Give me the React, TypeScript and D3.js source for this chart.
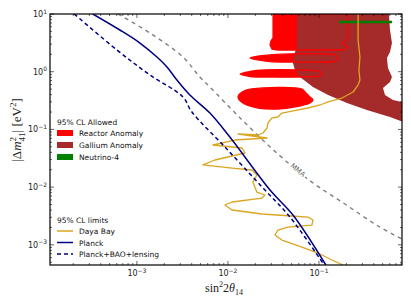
import * as d3 from 'd3'

type Pt = [number, number]

// axis ranges (sin^2 2theta, dm^2 in eV^2)
const xDomain: [number, number] = [1.11e-4, 0.817]
const yDomain: [number, number] = [4.47e-4, 10]
const xMajor = [1e-3, 1e-2, 1e-1]
const xMajorExp = ['−3', '−2', '−1']
const yMajor = [1e-3, 1e-2, 1e-1, 1, 10]
const yMajorExp = ['−3', '−2', '−1', '0', '1']

// 95% CL limits
const planck: Pt[] = [
  [3.28e-4, 10], [6.5e-4, 5.28], [1.08e-3, 3.14], [1.66e-3, 1.8], [2.14e-3, 1.21],
  [2.75e-3, 0.718], [3.82e-3, 0.394], [6.34e-3, 0.192], [1.05e-2, 0.0738],
  [2.9e-2, 0.00891], [5.18e-2, 0.00328], [0.119, 0.000447],
]
const planckBao: Pt[] = [
  [2.05e-4, 10], [6.03e-4, 2.38], [1.39e-3, 0.877], [3.2e-3, 0.365], [4.02e-3, 0.2],
  [9.27e-3, 0.0495], [2.43e-2, 0.00964], [4.8e-2, 0.00303], [0.114, 0.000447],
]
const mma: Pt[] = [
  [6.18e-4, 10], [1.39e-3, 4.69], [3.2e-3, 1.8], [4.92e-3, 0.809], [6.34e-3, 0.543],
  [1.36e-2, 0.158], [3.54e-2, 0.0375], [8.37e-2, 0.0122], [0.193, 0.00509],
  [0.445, 0.00212], [0.817, 0.00126],
]
const dayaBay: Pt[] = [
  [0.269, 10], [0.269, 3.54], [0.282, 1.8], [0.275, 1.07], [0.282, 0.718], [0.269, 0.588],
  [0.237, 0.445], [0.179, 0.35], [0.126, 0.299], [0.103, 0.265], [0.0757, 0.235],
  [0.0505, 0.208], [0.0392, 0.192], [0.0354, 0.164], [0.0305, 0.158], [0.0275, 0.129],
  [0.0269, 0.106], [0.0243, 0.0867], [0.0214, 0.08], [0.0129, 0.0832], [0.0269, 0.071],
  [0.0119, 0.0655], [0.00684, 0.0537], [0.0143, 0.0476], [0.0154, 0.039], [0.00719, 0.0295],
  [0.00531, 0.0242], [0.0111, 0.0214], [0.0184, 0.0198], [0.0208, 0.0162], [0.0188, 0.0122],
  [0.0208, 0.00822], [0.0255, 0.0073], [0.0237, 0.00647], [0.0111, 0.00552], [0.00927, 0.0049],
  [0.0111, 0.00401], [0.0237, 0.00342], [0.0505, 0.00316], [0.0757, 0.00303], [0.0859, 0.00269],
  [0.0837, 0.0022], [0.0456, 0.00203], [0.0354, 0.0018], [0.0328, 0.00148], [0.0392, 0.00121],
  [0.065, 0.000916], [0.0975, 0.000721], [0.139, 0.000546], [0.184, 0.000447],
]

// allowed regions
const neutrino4: Pt[] = [[0.166, 7.26], [0.634, 7.26]]
const gallium: Pt[] = [
  [5.73e-2, 10], [5.73e-2, 2.68], [5.31e-2, 1.95], [5.18e-2, 1.42], [5.45e-2, 1.07],
  [6.18e-2, 0.809], [8.59e-2, 0.543], [0.126, 0.394], [0.203, 0.287], [0.336, 0.217],
  [0.603, 0.164], [0.9, 0.13], [0.9, 0.287], [0.65, 0.323], [0.531, 0.394], [0.505, 0.522],
  [0.603, 0.663], [0.634, 0.809], [0.573, 1.16], [0.558, 1.73], [0.603, 2.19],
  [0.634, 3.14], [0.603, 5.28], [0.587, 10],
]
const reactorTop: Pt[] = [
  [3.13e-2, 10], [3.13e-2, 3.84], [2.97e-2, 3.4], [2.9e-2, 2.9], [3.05e-2, 2.47],
  [3.54e-2, 2.38], [0.184, 2.38], [0.208, 2.68], [0.179, 3.14], [0.193, 3.4],
  [0.208, 3.99], [0.208, 10],
]
const reactorBands: Pt[][] = [
  [[1.75e-2, 1.73], [2.14e-2, 1.87], [2.9e-2, 1.95], [4.8e-2, 2.03], [0.103, 2.03], [0.15, 1.95],
   [0.162, 1.73], [0.15, 1.53], [0.103, 1.47], [4.8e-2, 1.47], [2.9e-2, 1.5], [2.14e-2, 1.6]],
  [[1.36e-2, 0.912], [1.75e-2, 1.01], [2.55e-2, 1.07], [6.18e-2, 1.07], [9.75e-2, 1.03],
   [0.108, 0.931], [9.75e-2, 0.842], [6.18e-2, 0.809], [2.55e-2, 0.809], [1.75e-2, 0.826]],
  [[1.84e-2, 0.502], [6.5e-2, 0.502], [7.02e-2, 0.445], [7.96e-2, 0.365], [8.59e-2, 0.323],
   [7.96e-2, 0.287], [5.45e-2, 0.245], [3.54e-2, 0.226], [2.14e-2, 0.235], [1.46e-2, 0.287],
   [1.29e-2, 0.365], [1.43e-2, 0.445]],
]

const legendAllowed = [
  { label: 'Reactor Anomaly', color: '#ff0000' },
  { label: 'Gallium Anomaly', color: '#a52a2a' },
  { label: 'Neutrino-4', color: '#008000' },
]
const legendLimits = [
  { label: 'Daya Bay', color: '#daa520', dash: '' },
  { label: 'Planck', color: '#000080', dash: '' },
  { label: 'Planck+BAO+lensing', color: '#000080', dash: '4,3' },
]

const W = 411
const H = 308
const L = 50, R = 402, T = 14, B = 265

function logTicks(domain: [number, number]) {
  const out: { v: number; major: boolean }[] = []
  for (let e = Math.floor(Math.log10(domain[0])); e <= Math.ceil(Math.log10(domain[1])); e++) {
    for (let k = 1; k < 10; k++) {
      const v = k * Math.pow(10, e)
      if (v >= domain[0] * 0.999 && v <= domain[1] * 1.001) out.push({ v, major: k === 1 })
    }
  }
  return out
}

export default function App() {
  const x = d3.scaleLog().domain(xDomain).range([L, R])
  const y = d3.scaleLog().domain(yDomain).range([B, T])

  const smooth = d3.line<Pt>().x(d => x(d[0])).y(d => y(d[1])).curve(d3.curveCatmullRom.alpha(0.5))
  const straight = d3.line<Pt>().x(d => x(d[0])).y(d => y(d[1]))
  const closedStraight = d3.line<Pt>().x(d => x(d[0])).y(d => y(d[1])).curve(d3.curveLinearClosed)
  const blob = d3.line<Pt>().x(d => x(d[0])).y(d => y(d[1])).curve(d3.curveCatmullRomClosed.alpha(0.5))

  const xt = logTicks(xDomain)
  const yt = logTicks(yDomain)
  const font = 'DejaVu Sans, sans-serif'
  const serif = 'Liberation Serif, DejaVu Serif, serif'

  const reactorPaths = [closedStraight(reactorTop), ...reactorBands.map(b => blob(b))]

  return (
    <svg width={W} height={H} style={{ position: 'absolute', left: 0, top: 0, background: '#fff' }}>
      <defs>
        <clipPath id="plot">
          <rect x={L} y={T} width={R - L} height={B - T} />
        </clipPath>
      </defs>
      <g clipPath="url(#plot)">
        {reactorPaths.map((p, i) => (
          <path key={'rf' + i} d={p || ''} fill="#ff0000" stroke="none" />
        ))}
        <path d={closedStraight(gallium) || ''} fill="#a52a2a" stroke="none" />
        {reactorPaths.map((p, i) => (
          <path key={'rs' + i} d={p || ''} fill="none" stroke="#ff0000" strokeWidth={1.3} />
        ))}
        <path d={straight(neutrino4) || ''} stroke="#008000" strokeWidth={2.5} fill="none" />
        <path d={smooth(mma) || ''} stroke="#808080" strokeWidth={1.4} strokeDasharray="4,4" fill="none" />
        <path d={straight(dayaBay) || ''} stroke="#daa520" strokeWidth={1.3} fill="none" strokeLinejoin="round" />
        <path d={smooth(planck) || ''} stroke="#000080" strokeWidth={1.5} fill="none" />
        <path d={smooth(planckBao) || ''} stroke="#000080" strokeWidth={1.5} strokeDasharray="4,3" fill="none" />
        <g transform="translate(298,170) rotate(40)">
          <rect x={-10} y={-5} width={20} height={9} fill="#fff" />
          <text textAnchor="middle" dy="0.35em" fontFamily={font} fontSize={7} fill="#666">MMA</text>
        </g>
      </g>

      {/* ticks */}
      {xt.map((t, i) => {
        const len = t.major ? 4 : 2
        const px = x(t.v)
        return (
          <g key={'xt' + i} stroke="#000" strokeWidth={0.6}>
            <line x1={px} x2={px} y1={B} y2={B - len} />
            <line x1={px} x2={px} y1={T} y2={T + len} />
          </g>
        )
      })}
      {yt.map((t, i) => {
        const len = t.major ? 4 : 2
        const py = y(t.v)
        return (
          <g key={'yt' + i} stroke="#000" strokeWidth={0.6}>
            <line x1={L} x2={L + len} y1={py} y2={py} />
            <line x1={R} x2={R - len} y1={py} y2={py} />
          </g>
        )
      })}
      <rect x={L} y={T} width={R - L} height={B - T} fill="none" stroke="#000" strokeWidth={1.2} />

      {xMajor.map((v, i) => (
        <text key={'xl' + i} x={x(v)} y={B + 11} textAnchor="middle" fontFamily={font} fontSize={8} fill="#222">
          10<tspan dy={-3.5} fontSize={6}>{xMajorExp[i]}</tspan>
        </text>
      ))}
      {yMajor.map((v, i) => (
        <text key={'yl' + i} x={L - 3} y={y(v) + 3} textAnchor="end" fontFamily={font} fontSize={8} fill="#222">
          10<tspan dy={-3.5} fontSize={6}>{yMajorExp[i]}</tspan>
        </text>
      ))}

      {/* axis labels */}
      <text x={224} y={292} textAnchor="middle" fontFamily={serif} fontSize={12} fill="#222">
        sin<tspan dy={-5} fontSize={8}>2</tspan><tspan dy={5}>2</tspan><tspan fontStyle="italic">θ</tspan>
        <tspan dy={3} fontSize={8}>14</tspan>
      </text>
      <text transform="translate(21,130) rotate(-90)" textAnchor="middle" fontFamily={serif} fontSize={13} fill="#222">
        |Δ<tspan fontStyle="italic">m</tspan><tspan dy={-5.5} fontSize={9}>2</tspan>
        <tspan dx={-4.5} dy={9} fontSize={9}>41</tspan><tspan dy={-3.5}>| [eV</tspan>
        <tspan dy={-5.5} fontSize={9}>2</tspan><tspan dy={5.5}>]</tspan>
      </text>

      {/* legends */}
      <g fontFamily={font} fontSize={7.5} fill="#111">
        <text x={57} y={125}>95% CL Allowed</text>
        {legendAllowed.map((d, i) => (
          <g key={'la' + i}>
            <rect x={57} y={130 + i * 12} width={16} height={6} fill={d.color} />
            <text x={79} y={136 + i * 12}>{d.label}</text>
          </g>
        ))}
        <text x={57} y={223}>95% CL limits</text>
        {legendLimits.map((d, i) => (
          <g key={'ll' + i}>
            <line x1={57} x2={73} y1={231 + i * 11.5} y2={231 + i * 11.5} stroke={d.color} strokeWidth={1.5}
              strokeDasharray={d.dash || undefined} />
            <text x={79} y={234 + i * 11.5}>{d.label}</text>
          </g>
        ))}
      </g>
    </svg>
  )
}
